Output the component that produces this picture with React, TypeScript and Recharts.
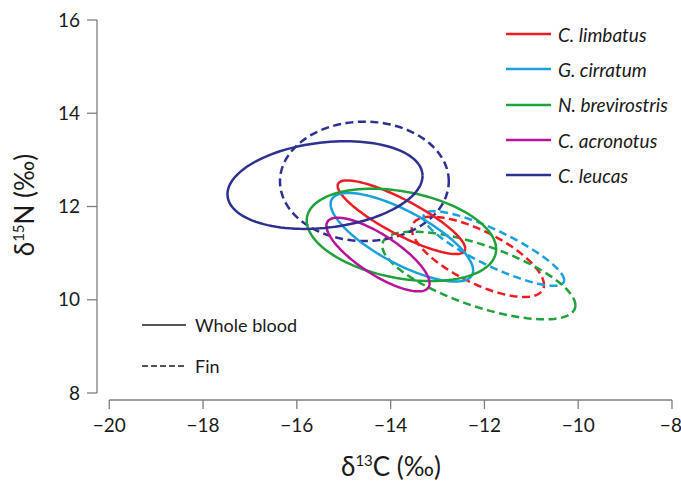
import { ScatterChart, Scatter, XAxis, YAxis, ReferenceLine, Label } from "recharts";

// species, in legend order
const species = ["C. limbatus", "G. cirratum", "N. brevirostris", "C. acronotus", "C. leucas"];
const colors = ["#EE1D23", "#1AA0DD", "#1FA23A", "#B7139B", "#2E3192"];

// standard ellipses, whole blood: centre, half extents, correlation
const wbCx = [-13.77, -13.76, -13.77, -14.27, -15.4];
const wbCy = [11.77, 11.34, 11.39, 10.97, 12.46];
const wbRx = [1.36, 1.52, 2.02, 1.1, 2.08];
const wbRy = [0.79, 0.95, 0.99, 0.79, 0.94];
const wbRho = [-0.85, -0.75, -0.31, -0.78, 0.21];

// standard ellipses, fin (no fin data for C. acronotus)
const finCx = [-12.14, -11.8, -12.12, null, -14.56];
const finCy = [10.92, 11.1, 10.52, null, 12.54];
const finRx = [1.41, 1.5, 2.06, null, 1.8];
const finRy = [0.86, 0.8, 0.94, null, 1.28];
const finRho = [-0.7, -0.85, -0.68, null, 0.0];

const xTicks = [-20, -18, -16, -14, -12, -10, -8];
const yTicks = [8, 10, 12, 14, 16];

const FONT = "Lato, 'Noto Sans', sans-serif";
const AXIS = "#7f7f7f";

// outline of an ellipse given its centre, half extents and correlation
function outline(cx: number, cy: number, rx: number, ry: number, rho: number) {
  const pts = [];
  const n = 120;
  const k = Math.sqrt(1 - rho * rho);
  for (let i = 0; i <= n; i++) {
    const t = (i / n) * Math.PI * 2;
    pts.push({ x: cx + rx * Math.cos(t), y: cy + ry * (rho * Math.cos(t) + k * Math.sin(t)) });
  }
  return pts;
}

const fmt = (v: number) => (v < 0 ? `\u2212${Math.abs(v)}` : `${v}`);

const noDot = () => <g />;

export default function App() {
  const ellipses: any[] = [];
  species.forEach((s, i) => {
    if (finCx[i] != null) {
      ellipses.push({
        key: `fin-${i}`,
        data: outline(finCx[i] as number, finCy[i] as number, finRx[i] as number, finRy[i] as number, finRho[i] as number),
        color: colors[i],
        dash: "8 4.5",
      });
    }
  });
  species.forEach((s, i) => {
    ellipses.push({
      key: `wb-${i}`,
      data: outline(wbCx[i], wbCy[i], wbRx[i], wbRy[i], wbRho[i]),
      color: colors[i],
      dash: undefined,
    });
  });

  return (
    <div style={{ position: "absolute", left: 0, top: 0, width: 681, height: 490, background: "#fff", fontFamily: FONT }}>
      <ScatterChart width={681} height={490} margin={{ top: 20, right: 9, bottom: 0, left: 0 }}>
        <XAxis
          type="number"
          dataKey="x"
          domain={[-20.262, -8]}
          ticks={xTicks}
          allowDataOverflow
          axisLine={false}
          tickLine={{ stroke: AXIS, strokeWidth: 1.3 }}
          tickSize={9}
          tickMargin={10}
          tickFormatter={fmt}
          tick={{ fontSize: 19, fill: "#1a1a1a", fontFamily: FONT }}
          height={90}
        >
          <Label
            content={() => (
              <text x={391} y={476} textAnchor="middle" fontSize={26} fill="#1a1a1a" fontFamily={FONT}>
                δ<tspan fontSize={15} dy={-10}>13</tspan>
                <tspan dy={10}>C (‰)</tspan>
              </text>
            )}
          />
        </XAxis>
        <YAxis
          type="number"
          dataKey="y"
          domain={[7.85, 16]}
          ticks={yTicks}
          allowDataOverflow
          axisLine={false}
          tickLine={{ stroke: AXIS, strokeWidth: 1.3 }}
          tickSize={10}
          tickMargin={7}
          tick={{ fontSize: 19, fill: "#1a1a1a", fontFamily: FONT }}
          width={97}
        >
          <Label
            content={() => (
              <text
                x={34}
                y={205}
                textAnchor="middle"
                fontSize={26}
                fill="#1a1a1a"
                fontFamily={FONT}
                transform="rotate(-90 34 205)"
              >
                δ<tspan fontSize={15} dy={-10}>15</tspan>
                <tspan dy={10}>N (‰)</tspan>
              </text>
            )}
          />
        </YAxis>
        <ReferenceLine
          segment={[{ x: -20.262, y: 8 }, { x: -20.262, y: 16 }]}
          stroke={AXIS}
          strokeWidth={1.3}
          ifOverflow="visible"
        />
        <ReferenceLine
          segment={[{ x: -20, y: 7.85 }, { x: -8, y: 7.85 }]}
          stroke={AXIS}
          strokeWidth={1.3}
          ifOverflow="visible"
        />
        {ellipses.map((e) => (
          <Scatter
            key={e.key}
            data={e.data}
            fill={e.color}
            line={{ stroke: e.color, strokeWidth: 2.5, strokeDasharray: e.dash }}
            lineType="joint"
            shape={noDot}
            isAnimationActive={false}
          />
        ))}
      </ScatterChart>

      {/* species legend */}
      <div style={{ position: "absolute", left: 504, top: 16.5 }}>
        {species.map((s, i) => (
          <div key={s} style={{ display: "flex", alignItems: "center", height: 35.3 }}>
            <svg width={50} height={10}>
              <line x1={2} y1={5} x2={47} y2={5} stroke={colors[i]} strokeWidth={2.5} />
            </svg>
            <span style={{ marginLeft: 4, fontSize: 19, fontStyle: "italic", color: "#1a1a1a", fontFamily: FONT }}>{s}</span>
          </div>
        ))}
      </div>

      {/* tissue legend */}
      <div style={{ position: "absolute", left: 140, top: 305 }}>
        {["Whole blood", "Fin"].map((t, i) => (
          <div key={t} style={{ display: "flex", alignItems: "center", height: 40.5 }}>
            <svg width={48} height={10}>
              <line x1={2} y1={5} x2={46} y2={5} stroke="#1a1a1a" strokeWidth={1.6} strokeDasharray={i === 1 ? "6 3" : undefined} />
            </svg>
            <span style={{ marginLeft: 7, fontSize: 18, color: "#1a1a1a", fontFamily: FONT }}>{t}</span>
          </div>
        ))}
      </div>
    </div>
  );
}
